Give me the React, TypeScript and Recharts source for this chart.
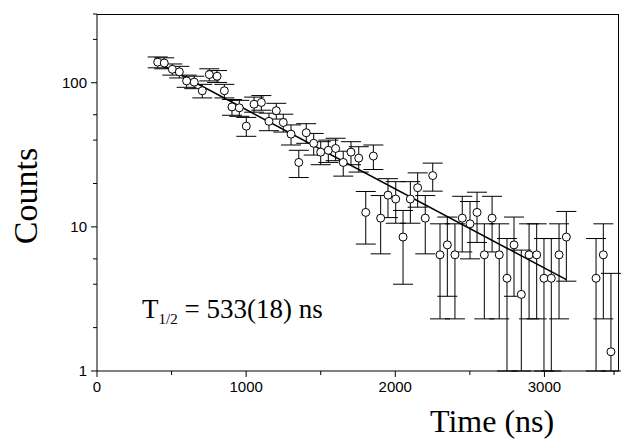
import React from 'react';
import { ComposedChart, Scatter, Line, XAxis, YAxis, ErrorBar } from 'recharts';

const times = [407,451,505,552,601,652,706,753,805,854,905,954,1001,1053,1102,1153,1202,1249,1301,1353,1403,1453,1500,1551,1600,1651,1703,1755,1802,1853,1902,1951,2003,2052,2101,2150,2201,2251,2300,2349,2400,2449,2501,2548,2597,2649,2697,2749,2796,2845,2897,2948,2997,3046,3098,3147,3346,3395,3446];
const counts = [139,137,124,119,103,101,88,114,111,88,68,67,50,71,73,54,64,53,44,28,45,38,33,34,35,28,33,30,12.6,31,11.5,16.6,15.6,8.5,15.6,18.7,11.5,22.7,6.4,7.5,6.4,11.5,10.5,12.6,6.4,11.5,6.4,4.4,7.5,3.4,6.4,6.4,4.4,4.4,6.4,8.5,4.4,6.4,1.36];
const errors = [12,12,11,11,10,10,9.5,11,10.5,9.5,8.5,8.5,7.5,8.5,8.5,7.5,8,7.5,7,6,7,6.5,6,6,6.2,5.5,6,6,5,6,5,5,5,4.5,5,5,5,5,4.1,4.2,4.1,4.8,4.5,4.8,4.1,4.8,4.1,3.9,4.2,3.5,4.1,4.1,3.9,3.9,4.1,4.3,3.9,4.1,3.4];
const fitTimes = [389, 3147];
const fitCounts = [141, 4.3];
const xTicks = [0,500,1000,1500,2000,2500,3000,3500];
const xLabels = [0,1000,2000,3000];
const yTicks = [1,2,3,4,5,6,7,8,9,10,20,30,40,50,60,70,80,90,100,200,300];
const yLabels = [1,10,100];

const pts = times.map((t, i) => ({
  t,
  v: counts[i],
  err: [Math.min(errors[i], counts[i] - 1), errors[i]],
}));
const fit = fitTimes.map((t, i) => ({ t, f: fitCounts[i] }));

const XTick = (p: any) => {
  const { x, y, payload } = p;
  const major = xLabels.includes(payload.value);
  return (
    <g>
      <line x1={x} x2={x} y1={y - 8} y2={y - 8 + (major ? 6 : 4)} stroke="#000" />
      {major && (
        <text x={x} y={y + 13} textAnchor="middle" fontFamily="Liberation Sans, Arial" fontSize={15} fill="#000">
          {payload.value}
        </text>
      )}
    </g>
  );
};

const YTick = (p: any) => {
  const { x, y, payload } = p;
  const major = yLabels.includes(payload.value);
  return (
    <g>
      <line x1={x + 8} x2={x + 8 - (major ? 6 : 4)} y1={y} y2={y} stroke="#000" />
      {major && (
        <text x={x - 2} y={y + 5} textAnchor="end" fontFamily="Liberation Sans, Arial" fontSize={15} fill="#000">
          {payload.value}
        </text>
      )}
    </g>
  );
};

const Circle = (p: any) => (
  <circle cx={p.cx} cy={p.cy} r={4} fill="#fff" stroke="#000" strokeWidth={1} />
);

export default function App() {
  return (
    <div style={{ position: 'relative', width: 630, height: 448, margin: -8, background: '#fff' }}>
      <ComposedChart width={630} height={448} margin={{ top: 14, right: 11, left: 0, bottom: 0 }}>
        <XAxis
          type="number"
          dataKey="t"
          domain={[0, 3500]}
          ticks={xTicks}
          tick={<XTick />}
          tickLine={false}
          height={77}
          stroke="#000"
          allowDataOverflow
        />
        <YAxis
          type="number"
          scale="log"
          domain={[1, 300]}
          ticks={yTicks}
          tick={<YTick />}
          tickLine={false}
          width={97}
          stroke="#000"
          allowDataOverflow
        />
        <Scatter data={pts} dataKey="v" shape={<Circle />} isAnimationActive={false}>
          <ErrorBar dataKey="err" direction="y" width={10} stroke="#000" strokeWidth={1} isAnimationActive={false} />
        </Scatter>
        <Line data={fit} dataKey="f" stroke="#000" strokeWidth={1.5} dot={false} isAnimationActive={false} />
      </ComposedChart>
      <div style={{ position: 'absolute', left: 97, top: 14, width: 522, height: 357, borderTop: '1px solid #000', borderRight: '1px solid #000', boxSizing: 'border-box', pointerEvents: 'none' }} />
      <div style={{ position: 'absolute', left: 26, top: 196, transform: 'translate(-50%,-50%) rotate(-90deg)', fontFamily: 'Liberation Serif, Times New Roman', fontSize: 34, whiteSpace: 'nowrap' }}>
        Counts
      </div>
      <div style={{ position: 'absolute', left: 430, top: 403, fontFamily: 'Liberation Serif, Times New Roman', fontSize: 32, whiteSpace: 'nowrap' }}>
        Time (ns)
      </div>
      <div style={{ position: 'absolute', left: 142, top: 294, fontFamily: 'Liberation Serif, Times New Roman', fontSize: 27, whiteSpace: 'nowrap' }}>
        T<sub style={{ fontSize: 15 }}>1/2</sub> = 533(18) ns
      </div>
    </div>
  );
}
